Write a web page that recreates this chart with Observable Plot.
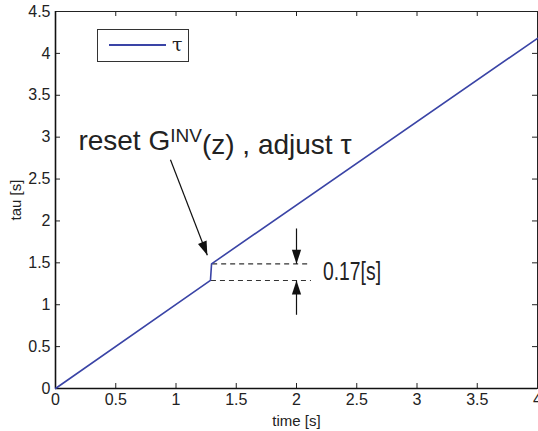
<!DOCTYPE html>
<html><head><meta charset="utf-8">
<script src="https://cdn.jsdelivr.net/npm/d3@7"></script>
<script src="https://cdn.jsdelivr.net/npm/@observablehq/plot@0.6"></script>
<style>
body{margin:0;background:#fff;}
#wrap{position:relative;width:538px;height:431px;font-family:"Liberation Sans",Arial,sans-serif;}
#legend{position:absolute;left:97px;top:29px;width:92px;height:33px;border:1px solid #333;background:#fff;box-sizing:border-box;}
#legend .ln{position:absolute;left:11px;top:14px;width:57px;height:2px;background:#3a44a6;}
#legend .tx{position:absolute;left:74px;top:4px;font-size:19px;line-height:20px;color:#222;font-family:"DejaVu Serif",serif;}
</style></head><body><div id="wrap"><div id="legend"><div class="ln"></div><div class="tx">τ</div></div></div>
<script>
// series: time [s] vs tau [s]
const timeS = [0, 1.286, 1.295, 4];
const tauS  = [0, 1.29, 1.488, 4.18];
const xTicks = [0, 0.5, 1, 1.5, 2, 2.5, 3, 3.5, 4];
const yTicks = [0, 0.5, 1, 1.5, 2, 2.5, 3, 3.5, 4, 4.5];
const xDomain = [0, 4];
const yDomain = [0, 4.5];
// annotation values
const dashLevels = [1.29, 1.488];
const dashFrom = [1.29, 1.30];
const dashTo = [2.12, 2.12];
const arrowX1 = [0.954, 2, 2];
const arrowY1 = [2.73, 1.91, 0.88];
const arrowX2 = [1.26, 2, 2];
const arrowY2 = [1.59, 1.488, 1.29];
const annotParts = ["reset G", "INV", "(z) , adjust τ"];
const annotPos = [0.19, 2.95];
const stepLabel = "0.17[s]";
const stepLabelPos = [2.22, 1.39];
const legendLabel = "τ";

const W = 538, H = 431, mL = 55, mR = 1, mT = 11, mB = 43;
const lineColor = "#3a44a6";

const series = timeS.map((t, i) => ({t, tau: tauS[i]}));
const dashes = dashLevels.map((y, i) => ({y, x1: dashFrom[i], x2: dashTo[i]}));
const xs = Plot.scale({x: {domain: xDomain, range: [mL, W - mR]}});
const ys = Plot.scale({y: {domain: yDomain, range: [H - mB, mT]}});
const arrows = arrowX1.map((x1, i) => {
  const a = {x1, y1: arrowY1[i], x2: arrowX2[i], y2: arrowY2[i]};
  const dx = xs.apply(a.x2) - xs.apply(a.x1), dy = ys.apply(a.y2) - ys.apply(a.y1);
  a.angle = Math.atan2(-dx, dy) * 180 / Math.PI;
  return a;
});
const head = {draw(ctx, size) { const L = Math.sqrt(size / Math.PI); ctx.moveTo(0, 0); ctx.lineTo(-0.33 * L, -L); ctx.lineTo(0.33 * L, -L); ctx.closePath(); }};
const pw = W - mL - mR, ph = H - mT - mB;

const plot = Plot.plot({
  width: W, height: H, marginLeft: mL, marginRight: mR, marginTop: mT, marginBottom: mB,
  style: {fontFamily: '"Liberation Sans", Arial, sans-serif', fontSize: "15px", color: "#222", background: "white"},
  x: {domain: xDomain, ticks: xTicks},
  y: {domain: yDomain, ticks: yTicks},
  marks: [
    Plot.gridX(xTicks, {stroke: "#222", strokeOpacity: 1, insetTop: ph - 5}),
    Plot.gridX(xTicks, {stroke: "#222", strokeOpacity: 1, insetBottom: ph - 5}),
    Plot.gridY(yTicks, {stroke: "#222", strokeOpacity: 1, insetRight: pw - 5}),
    Plot.gridY(yTicks, {stroke: "#222", strokeOpacity: 1, insetLeft: pw - 5}),
    Plot.axisX(xTicks, {tickSize: 0, tickPadding: 5, fontSize: 16, label: "time [s]", labelAnchor: "center", labelArrow: "none", labelOffset: 37, tickFormat: d => String(d)}),
    Plot.axisY(yTicks, {tickSize: 0, tickPadding: 5, fontSize: 16, label: "tau [s]", labelAnchor: "center", labelArrow: "none", labelOffset: 45, tickFormat: d => String(d)}),
    Plot.frame({stroke: "#222", strokeWidth: 1}),
    Plot.ruleX([0], {stroke: "#111", strokeWidth: 1.6}),
    Plot.ruleY([0], {stroke: "#111", strokeWidth: 1.6}),
    Plot.link(dashes, {x1: "x1", x2: "x2", y1: "y", y2: "y", stroke: "#333", strokeWidth: 1.1, strokeDasharray: "5,4"}),
    Plot.line(series, {x: "t", y: "tau", stroke: lineColor, strokeWidth: 1.6}),
    Plot.link(arrows, {x1: "x1", y1: "y1", x2: "x2", y2: "y2", stroke: "#111", strokeWidth: 1.2}),
    Plot.dot(arrows, {x: "x2", y: "y2", rotate: "angle", symbol: head, r: 14, fill: "#111", stroke: "none"}),
    Plot.text([annotParts.join("")], {x: () => annotPos[0], y: () => annotPos[1], text: d => d, textAnchor: "start", fontSize: 28, fill: "#222", className: "annot"}),
    Plot.text([stepLabel], {x: () => stepLabelPos[0], y: () => stepLabelPos[1], text: d => d, textAnchor: "start", fontSize: 25, fill: "#222", className: "steplab"})
  ]
});
const t = d3.select(plot).select(".annot text");
t.text(null);
t.append("tspan").text(annotParts[0]);
t.append("tspan").attr("dy", "-0.45em").attr("font-size", "19").text(annotParts[1]);
t.append("tspan").attr("dy", "0.45em").text(annotParts[2]);
d3.select(plot).select(".steplab text").attr("textLength", 58).attr("lengthAdjust", "spacingAndGlyphs");
d3.select(plot).selectAll('[aria-label="x-axis label"] text, [aria-label="y-axis label"] text').attr("font-size", 15);
document.getElementById("wrap").prepend(plot);
</script>
</body></html>
